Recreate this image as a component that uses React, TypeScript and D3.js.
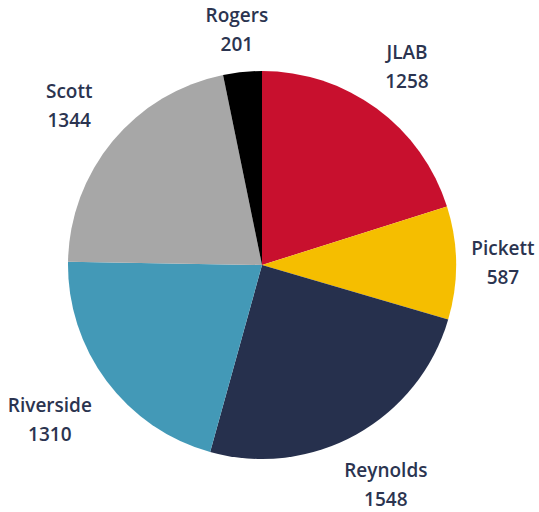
import { useEffect, useRef } from "react";
import * as d3 from "d3";

const names = ["JLAB", "Pickett", "Reynolds", "Riverside", "Scott", "Rogers"];
const values = [1258, 587, 1548, 1310, 1344, 201];
const colors = ["#C8102E", "#F5BE00", "#26304D", "#4399B7", "#A7A7A7", "#000000"];

const W = 539;
const H = 512;

export default function App() {
  const svgRef = useRef<SVGSVGElement>(null);

  useEffect(() => {
    document.body.style.margin = "0";
    const svg = d3.select(svgRef.current);
    svg.selectAll("*").remove();

    const cx = 262;
    const cy = 265;
    const radius = 194;
    const labelGap = 209; // label box sits just outside this circle

    const data = names.map((n, i) => ({ name: n, value: values[i], color: colors[i] }));
    const pie = d3
      .pie<{ name: string; value: number; color: string }>()
      .value((d) => d.value)
      .sort(null);
    const arc = d3
      .arc<d3.PieArcDatum<{ name: string; value: number; color: string }>>()
      .innerRadius(0)
      .outerRadius(radius);

    const g = svg.append("g").attr("transform", `translate(${cx},${cy})`);
    const arcs = pie(data);

    g.selectAll("path.slice")
      .data(arcs)
      .join("path")
      .attr("class", "slice")
      .attr("d", arc)
      .attr("fill", (d) => d.data.color);

    // Labels: two-line blocks pushed out until their box clears the label circle
    arcs.forEach((a) => {
      const mid = (a.startAngle + a.endAngle) / 2;
      const ux = Math.sin(mid);
      const uy = -Math.cos(mid);
      const lg = g.append("g");
      const t1 = lg
        .append("text")
        .attr("text-anchor", "middle")
        .attr("y", -7)
        .text(a.data.name);
      const t2 = lg
        .append("text")
        .attr("text-anchor", "middle")
        .attr("y", 22)
        .text(String(a.data.value));
      lg.selectAll("text")
        .attr("font-family", "'Open Sans', sans-serif")
        .attr("font-size", "19px")
        .attr("font-weight", "600")
        .attr("fill", "#2B3450");
      const w = Math.max(
        (t1.node() as SVGTextElement).getComputedTextLength(),
        (t2.node() as SVGTextElement).getComputedTextLength()
      );
      const halfH = 24;
      const r = labelGap + Math.abs(ux) * (w / 2) + Math.abs(uy) * halfH;
      // small extra push on the diagonals
      const diag = Math.abs(ux * uy);
      const nx = (ux < 0 ? 13 : 5) * diag * Math.sign(ux);
      const ny = (uy < 0 ? 10 : 1) * diag * Math.sign(uy);
      lg.attr("transform", `translate(${ux * r + nx},${uy * r + ny})`);
    });
  }, []);

  return (
    <div style={{ position: "absolute", left: 0, top: 0 }}>
      <svg ref={svgRef} width={W} height={H} style={{ display: "block", background: "#fff" }} />
    </div>
  );
}
